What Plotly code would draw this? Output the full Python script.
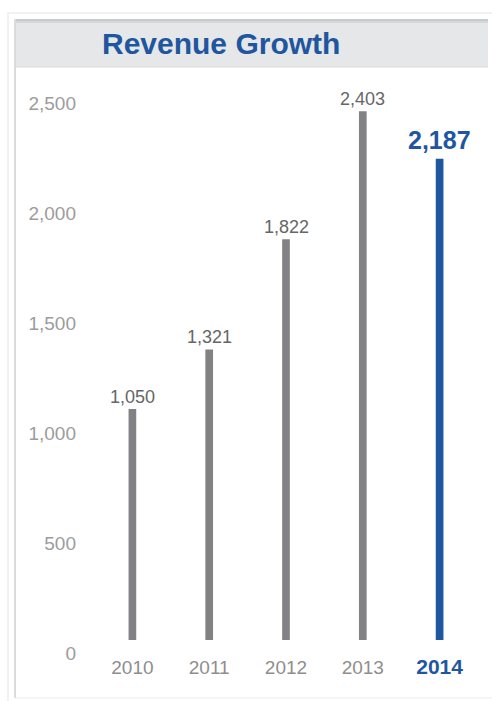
import plotly.graph_objects as go

years = [2010, 2011, 2012, 2013, 2014]
year_labels = ["2010", "2011", "2012", "2013", "2014"]
revenue = [1050, 1321, 1822, 2403, 2187]
value_labels = ["1,050", "1,321", "1,822", "2,403", "2,187"]
y_tick_vals = [0, 500, 1000, 1500, 2000, 2500]
y_tick_text = ["0", "500", "1,000", "1,500", "2,000", "2,500"]
title_text = "Revenue Growth"

BLUE = "#1f56a0"
GRAY_BAR = "#828285"
FONT = "Liberation Sans, Arial, Helvetica, sans-serif"

W, H = 492, 701
ML, MR, MT, MB = 94, 14, 90, 61
PW = W - ML - MR
PH = H - MT - MB


def px(x):
    return (x - ML) / PW


def py(y):
    return (H - MB - y) / PH


highlight = len(years) - 1
colors = [BLUE if i == highlight else GRAY_BAR for i in range(len(years))]

fig = go.Figure()
fig.add_trace(go.Bar(
    x=years, y=revenue, marker=dict(color=colors, line=dict(width=0)),
    width=0.1, hoverinfo="skip", cliponaxis=False,
))

ticktext = []
for i, yr in enumerate(year_labels):
    if i == highlight:
        ticktext.append(f"<span style='font-size:21px;font-weight:bold;fill:{BLUE}'>{yr}</span>")
    else:
        ticktext.append(yr)

annotations = []
for i, (yr, v, lab) in enumerate(zip(years, revenue, value_labels)):
    if i == highlight:
        annotations.append(dict(x=yr, y=v, xref="x", yref="y", text=f"<b>{lab}</b>",
                                showarrow=False, yanchor="bottom", yshift=3,
                                font=dict(family=FONT, size=25, color=BLUE)))
    else:
        annotations.append(dict(x=yr, y=v, xref="x", yref="y", text=lab,
                                showarrow=False, yanchor="bottom", yshift=0,
                                font=dict(family=FONT, size=18, color="#666666")))

annotations.append(dict(x=px(221), y=py(44), xref="paper", yref="paper",
                        text=f"<b>{title_text}</b>", showarrow=False,
                        xanchor="center", yanchor="middle",
                        font=dict(family=FONT, size=30, color=BLUE)))

shapes = [
    # faint outer frame
    dict(type="line", xref="paper", yref="paper", x0=px(7), x1=px(492), y0=py(13), y1=py(13),
         line=dict(color="#f1f1f1", width=2)),
    dict(type="line", xref="paper", yref="paper", x0=px(8), x1=px(8), y0=py(13), y1=py(701),
         line=dict(color="#f1f1f1", width=2)),
    # header band
    dict(type="rect", xref="paper", yref="paper", x0=px(14), x1=px(488), y0=py(19), y1=py(67),
         fillcolor="#e6e7e8", line=dict(width=0), layer="below"),
    dict(type="rect", xref="paper", yref="paper", x0=px(14), x1=px(488), y0=py(19), y1=py(21),
         fillcolor="#c9cacb", line=dict(width=0), layer="below"),
    dict(type="rect", xref="paper", yref="paper", x0=px(14), x1=px(488), y0=py(21), y1=py(23),
         fillcolor="#d6d7d8", line=dict(width=0), layer="below"),
    dict(type="line", xref="paper", yref="paper", x0=px(14), x1=px(488), y0=py(67), y1=py(67),
         line=dict(color="#d9dadb", width=1), layer="below"),
    # left border of panel
    dict(type="line", xref="paper", yref="paper", x0=px(15), x1=px(15), y0=py(19), y1=py(698),
         line=dict(color="#dcdcdc", width=2)),
    # bottom border of panel
    dict(type="line", xref="paper", yref="paper", x0=px(14), x1=px(492), y0=py(698), y1=py(698),
         line=dict(color="#ececec", width=1)),
]

fig.update_layout(
    width=W, height=H,
    margin=dict(l=ML, r=MR, t=MT, b=MB, pad=0),
    paper_bgcolor="white", plot_bgcolor="white",
    showlegend=False,
    font=dict(family=FONT),
    annotations=annotations,
    shapes=shapes,
    xaxis=dict(
        type="linear", range=[years[0] - 0.5, years[-1] + 0.5],
        tickvals=years, ticktext=ticktext,
        showgrid=False, zeroline=False, showline=False, ticks="",
        tickfont=dict(family=FONT, size=19, color="#8e8e8e"),
        ticklabelstandoff=14, fixedrange=True,
    ),
    yaxis=dict(
        range=[0, 2500],
        tickvals=y_tick_vals, ticktext=y_tick_text,
        showgrid=False, zeroline=False, showline=False, ticks="",
        tickfont=dict(family=FONT, size=19, color="#9c9c9c"),
        ticklabelstandoff=17, ticklabelshift=13, fixedrange=True,
    ),
)

fig.write_html("out.html")
